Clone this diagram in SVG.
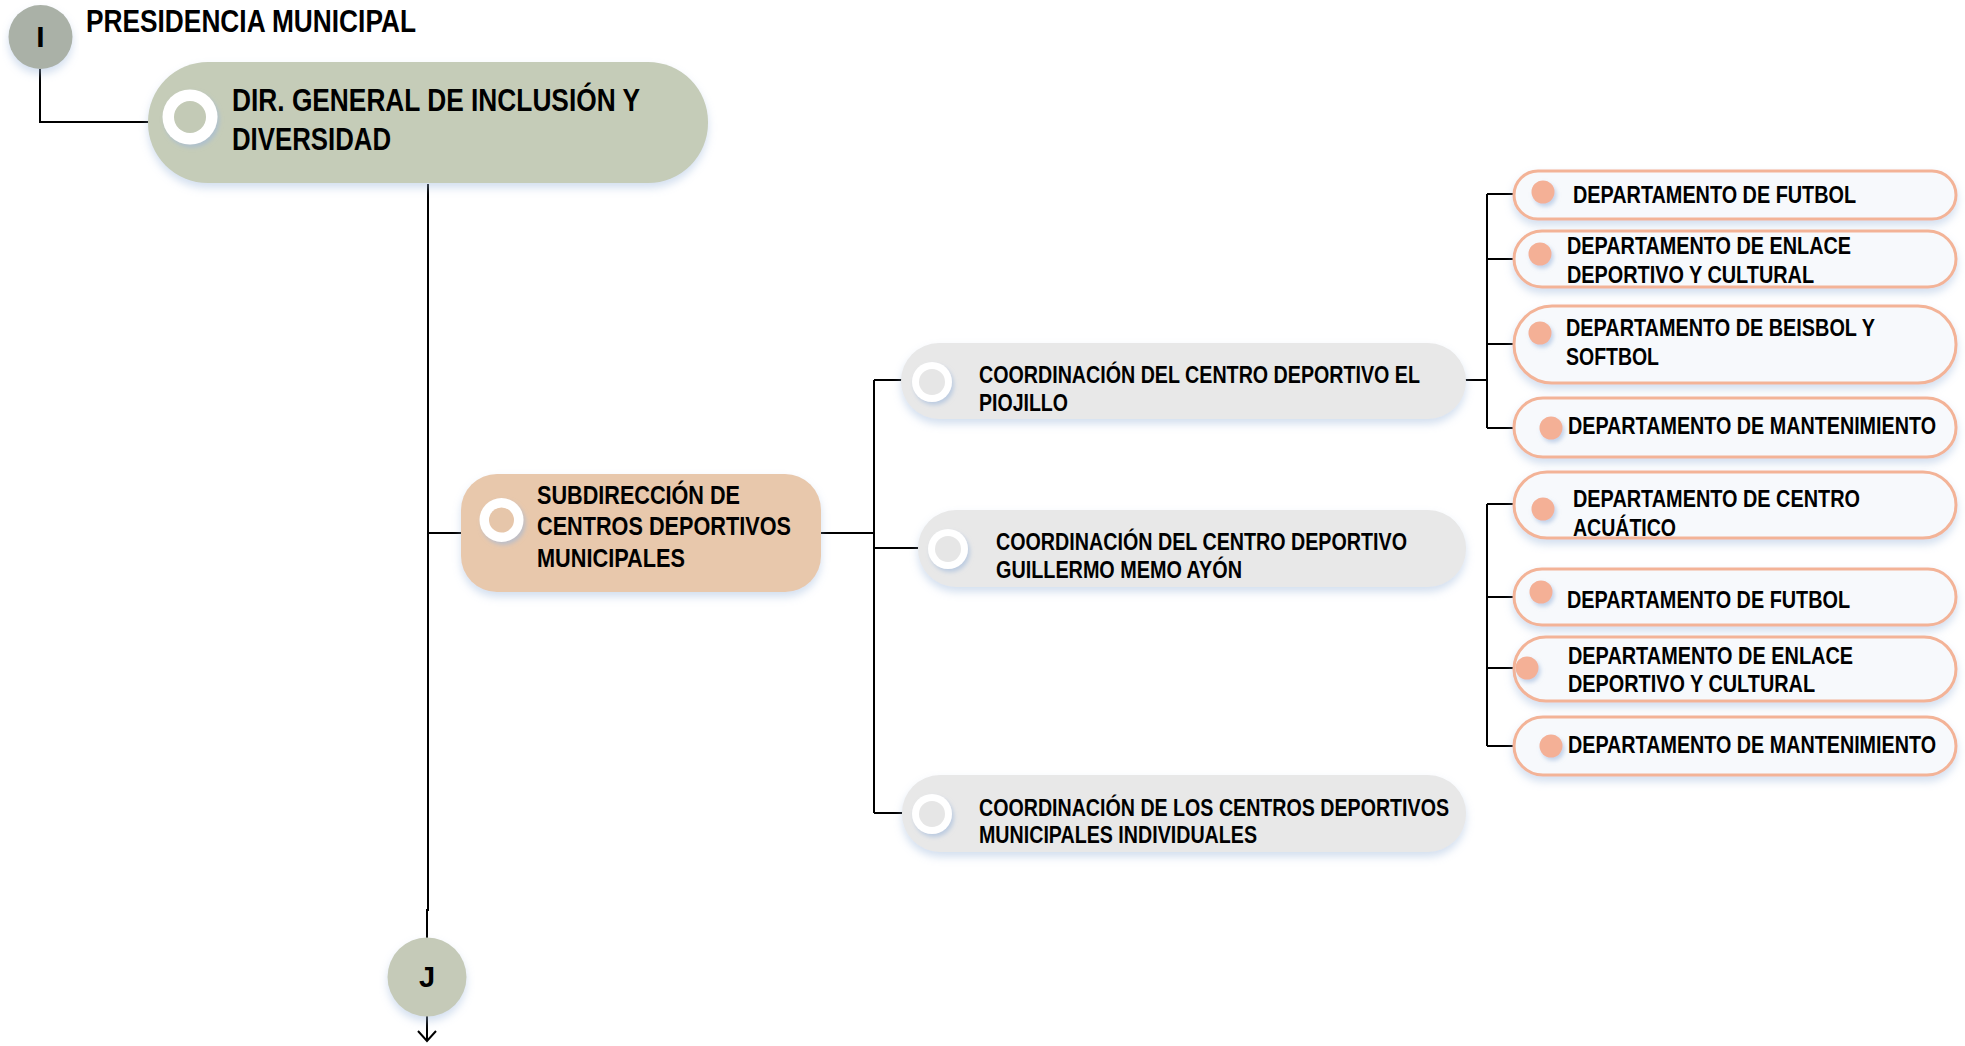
<svg xmlns="http://www.w3.org/2000/svg" width="1965" height="1046" viewBox="0 0 1965 1046">
<defs>
<filter id="sh" x="-10%" y="-20%" width="120%" height="150%">
<feDropShadow dx="0" dy="5" stdDeviation="4" flood-color="#9db8dc" flood-opacity="0.45"/>
</filter>
<filter id="shs" x="-40%" y="-40%" width="180%" height="180%">
<feDropShadow dx="2" dy="3" stdDeviation="2" flood-color="#9db8dc" flood-opacity="0.6"/>
</filter>
</defs>
<style>
.t{font-family:"Liberation Sans Narrow","Liberation Sans",Arial,sans-serif;font-weight:bold;fill:#000;}
.big{font-size:32px;}
.mid{font-size:26px;}
.sm{font-size:24px;}
.ln{fill:none;stroke:#000;stroke-width:2;}
.dept{fill:#f7f9fc;stroke:#f3b397;stroke-width:3;}
.dot{fill:#f4b096;}
.ring{fill:#fff;}
.coord{fill:#e8e8e8;}
</style>
<rect width="1965" height="1046" fill="#fff"/>
<g id="connectors">
<path class="ln" d="M40,69 V122 H149"/>
<path class="ln" d="M428,184 V910 H427 V938"/>
<path class="ln" d="M428,533 H462"/>
<path class="ln" d="M427,1016 V1041 M418,1031 L427,1041 L436,1031"/>
<path class="ln" d="M821,533 H874 M874,380 V813 M874,380 H903 M874,548 H919 M874,813 H903"/>
<path class="ln" d="M1465,380 H1487 M1487,194 V428 M1487,194 H1516 M1487,259 H1516 M1487,344 H1516 M1487,428 H1516"/>
<path class="ln" d="M1487,504 V746 M1487,504 H1516 M1487,597 H1516 M1487,668 H1516 M1487,746 H1516"/>
</g>
<g id="presidencia">
<circle cx="40.5" cy="37" r="32" fill="#aab1a7" filter="url(#sh)"/>
<text class="t" x="40.5" y="47" font-size="30" text-anchor="middle">I</text>
<text class="t big" x="86" y="32" textLength="330" lengthAdjust="spacingAndGlyphs">PRESIDENCIA MUNICIPAL</text>
</g>
<g id="dir-general">
<rect x="148" y="62" width="560" height="121" rx="60" fill="#c5ccb8" filter="url(#sh)"/>
<circle cx="190" cy="117" r="27.5" class="ring" filter="url(#shs)"/>
<circle cx="190" cy="117" r="16" fill="#c3cab6"/>
<text class="t big" x="232" y="111" textLength="408" lengthAdjust="spacingAndGlyphs">DIR. GENERAL DE INCLUSIÓN Y</text>
<text class="t big" x="232" y="150" textLength="159" lengthAdjust="spacingAndGlyphs">DIVERSIDAD</text>
</g>
<g id="subdireccion">
<rect x="461" y="474" width="360" height="118" rx="36" fill="#e8c8ac" filter="url(#sh)"/>
<circle cx="501.5" cy="520" r="22" class="ring" filter="url(#shs)"/>
<circle cx="501.5" cy="520" r="12.5" fill="#e6c6aa"/>
<text class="t mid" x="537" y="504" textLength="203" lengthAdjust="spacingAndGlyphs">SUBDIRECCIÓN DE</text>
<text class="t mid" x="537" y="535" textLength="254" lengthAdjust="spacingAndGlyphs">CENTROS DEPORTIVOS</text>
<text class="t mid" x="537" y="567" textLength="148" lengthAdjust="spacingAndGlyphs">MUNICIPALES</text>
</g>
<g id="coord-piojillo">
<rect x="901" y="343" width="565" height="76" rx="38" class="coord" filter="url(#sh)"/>
<circle cx="932" cy="382" r="20" class="ring" filter="url(#shs)"/>
<circle cx="932" cy="382" r="13" fill="#e6e6e6"/>
<text class="t sm" x="979" y="383" textLength="441" lengthAdjust="spacingAndGlyphs">COORDINACIÓN DEL CENTRO DEPORTIVO EL</text>
<text class="t sm" x="979" y="411" textLength="89" lengthAdjust="spacingAndGlyphs">PIOJILLO</text>
</g>
<g id="coord-ayon">
<rect x="918" y="510" width="548" height="77" rx="38" class="coord" filter="url(#sh)"/>
<circle cx="948" cy="549" r="20" class="ring" filter="url(#shs)"/>
<circle cx="948" cy="549" r="13" fill="#e6e6e6"/>
<text class="t sm" x="996" y="550" textLength="411" lengthAdjust="spacingAndGlyphs">COORDINACIÓN DEL CENTRO DEPORTIVO</text>
<text class="t sm" x="996" y="578" textLength="246" lengthAdjust="spacingAndGlyphs">GUILLERMO MEMO AYÓN</text>
</g>
<g id="coord-individuales">
<rect x="902" y="775" width="564" height="77" rx="38" class="coord" filter="url(#sh)"/>
<circle cx="932" cy="814" r="20" class="ring" filter="url(#shs)"/>
<circle cx="932" cy="814" r="13" fill="#e6e6e6"/>
<text class="t sm" x="979" y="816" textLength="470" lengthAdjust="spacingAndGlyphs">COORDINACIÓN DE LOS CENTROS DEPORTIVOS</text>
<text class="t sm" x="979" y="843" textLength="278" lengthAdjust="spacingAndGlyphs">MUNICIPALES INDIVIDUALES</text>
</g>
<g id="dep-futbol-1">
<rect x="1514" y="171" width="442" height="48" rx="24" class="dept" filter="url(#sh)"/>
<circle cx="1543" cy="192" r="11.5" class="dot" filter="url(#shs)"/>
<text class="t sm" x="1573" y="203" textLength="283" lengthAdjust="spacingAndGlyphs">DEPARTAMENTO DE FUTBOL</text>
</g>
<g id="dep-enlace-1">
<rect x="1514" y="231" width="442" height="56" rx="28" class="dept" filter="url(#sh)"/>
<circle cx="1540" cy="254" r="11.5" class="dot" filter="url(#shs)"/>
<text class="t sm" x="1567" y="254" textLength="284" lengthAdjust="spacingAndGlyphs">DEPARTAMENTO DE ENLACE</text>
<text class="t sm" x="1567" y="283" textLength="247" lengthAdjust="spacingAndGlyphs">DEPORTIVO Y CULTURAL</text>
</g>
<g id="dep-beisbol">
<rect x="1514" y="306" width="442" height="77" rx="38" class="dept" filter="url(#sh)"/>
<circle cx="1540" cy="333" r="11.5" class="dot" filter="url(#shs)"/>
<text class="t sm" x="1566" y="336" textLength="309" lengthAdjust="spacingAndGlyphs">DEPARTAMENTO DE BEISBOL Y</text>
<text class="t sm" x="1566" y="365" textLength="93" lengthAdjust="spacingAndGlyphs">SOFTBOL</text>
</g>
<g id="dep-mantenimiento-1">
<rect x="1514" y="398" width="442" height="59" rx="29" class="dept" filter="url(#sh)"/>
<circle cx="1551" cy="428" r="11.5" class="dot" filter="url(#shs)"/>
<text class="t sm" x="1568" y="434" textLength="368" lengthAdjust="spacingAndGlyphs">DEPARTAMENTO DE MANTENIMIENTO</text>
</g>
<g id="dep-acuatico">
<rect x="1514" y="472" width="442" height="66" rx="33" class="dept" filter="url(#sh)"/>
<circle cx="1543" cy="509" r="11.5" class="dot" filter="url(#shs)"/>
<text class="t sm" x="1573" y="507" textLength="287" lengthAdjust="spacingAndGlyphs">DEPARTAMENTO DE CENTRO</text>
<text class="t sm" x="1573" y="536" textLength="103" lengthAdjust="spacingAndGlyphs">ACUÁTICO</text>
</g>
<g id="dep-futbol-2">
<rect x="1514" y="569" width="442" height="56" rx="28" class="dept" filter="url(#sh)"/>
<circle cx="1541" cy="592" r="11.5" class="dot" filter="url(#shs)"/>
<text class="t sm" x="1567" y="608" textLength="283" lengthAdjust="spacingAndGlyphs">DEPARTAMENTO DE FUTBOL</text>
</g>
<g id="dep-enlace-2">
<rect x="1514" y="637" width="442" height="64" rx="32" class="dept" filter="url(#sh)"/>
<circle cx="1527" cy="668" r="11.5" class="dot" filter="url(#shs)"/>
<text class="t sm" x="1568" y="664" textLength="285" lengthAdjust="spacingAndGlyphs">DEPARTAMENTO DE ENLACE</text>
<text class="t sm" x="1568" y="692" textLength="247" lengthAdjust="spacingAndGlyphs">DEPORTIVO Y CULTURAL</text>
</g>
<g id="dep-mantenimiento-2">
<rect x="1514" y="717" width="442" height="58" rx="29" class="dept" filter="url(#sh)"/>
<circle cx="1551" cy="746" r="11.5" class="dot" filter="url(#shs)"/>
<text class="t sm" x="1568" y="753" textLength="368" lengthAdjust="spacingAndGlyphs">DEPARTAMENTO DE MANTENIMIENTO</text>
</g>
<g id="connector-j">
<circle cx="427" cy="977" r="39.5" fill="#c5cab8" filter="url(#sh)"/>
<text class="t" x="427" y="987" font-size="29" text-anchor="middle">J</text>
</g>
</svg>
